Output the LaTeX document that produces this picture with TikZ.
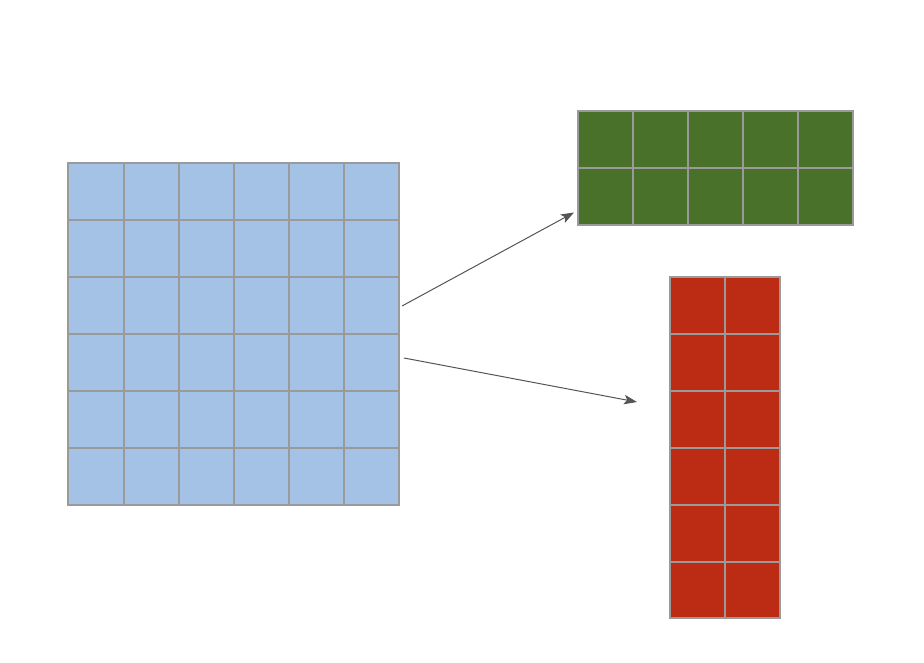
\documentclass[tikz,border=0pt]{standalone}
\usetikzlibrary{arrows.meta}
\definecolor{cblue}{HTML}{A4C2E6}
\definecolor{cgreen}{HTML}{4A7129}
\definecolor{cred}{HTML}{BC2C14}
\definecolor{cgrid}{HTML}{9A9A9A}
\definecolor{carrow}{HTML}{555555}
\tikzset{
  gridbox/.style={draw=cgrid, line width=1.3pt, inner sep=0pt, outer sep=0pt, rectangle},
  gridline/.style={draw=cgrid, line width=1.3pt},
  conn/.style={draw=carrow, line width=1pt, -{Stealth[length=13pt,width=9.5pt,inset=3pt]}}
}
\begin{document}
\begin{tikzpicture}[x=1pt,y=-1pt]
\useasboundingbox (0,0) rectangle (924,662);
% blue grid
\node[gridbox, fill=cblue, minimum width=331pt, minimum height=342pt, anchor=north west] (blue) at (68,163) {};
\foreach \x in {124,179,234,289,344} \draw[gridline] (\x,163) -- (\x,505);
\foreach \y in {220,277,334,391,448} \draw[gridline] (68,\y) -- (399,\y);
\draw[gridline] (blue.north west) rectangle (blue.south east);
% green grid
\node[gridbox, fill=cgreen, minimum width=275pt, minimum height=114pt, anchor=north west] (green) at (578,111) {};
\foreach \x in {633,688,743,798} \draw[gridline] (\x,111) -- (\x,225);
\draw[gridline] (578,168) -- (853,168);
\draw[gridline] (green.north west) rectangle (green.south east);
% red grid
\node[gridbox, fill=cred, minimum width=110pt, minimum height=341pt, anchor=north west] (red) at (670,277) {};
\draw[gridline] (725,277) -- (725,618);
\foreach \y in {334,391,448,505,562} \draw[gridline] (670,\y) -- (780,\y);
\draw[gridline] (red.north west) rectangle (red.south east);
% connectors
\coordinate (a1s) at (402,306);
\coordinate (a1e) at (574,212.5);
\coordinate (a2s) at (404,358);
\coordinate (a2e) at (637,402);
\draw[conn] (a1s) -- (a1e);
\draw[conn] (a2s) -- (a2e);
\end{tikzpicture}
\end{document}
